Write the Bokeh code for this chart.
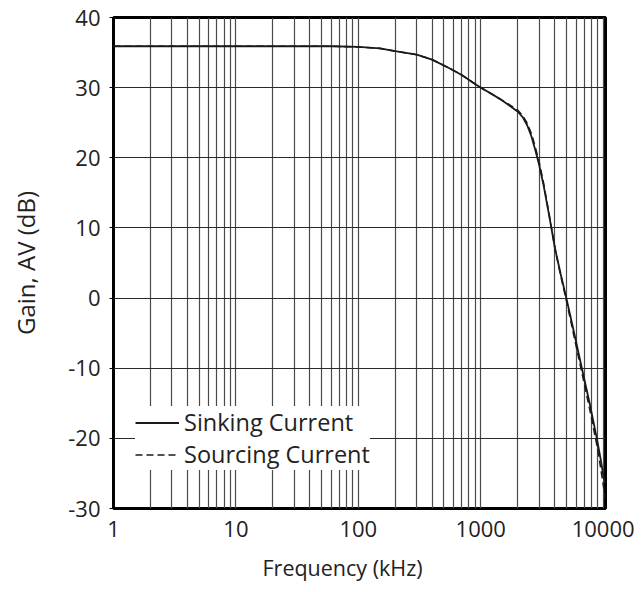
from bokeh.plotting import figure
from bokeh.models import FixedTicker, Legend, LegendItem, Range1d, Title
from bokeh.embed import file_html
from bokeh.resources import INLINE

# Open-loop gain vs frequency, sinking and sourcing load current
freq_khz = [1, 3, 10, 30, 60, 100, 150, 200, 300, 400, 550, 700, 850, 1000,
            1200, 1430, 1700, 2000, 2200, 2400, 2600, 2800, 3000, 3250, 3600,
            4050, 4500, 5000, 5600, 6700, 7800, 8900, 9500, 10100, 10450]
sinking_db = [35.9, 35.9, 35.9, 35.9, 35.9, 35.8, 35.6, 35.2, 34.7, 34.0,
              32.8, 31.8, 30.8, 30.0, 29.2, 28.4, 27.5, 26.6, 25.8, 24.6,
              23.0, 21.0, 19.0, 16.2, 12.0, 7.0, 3.4, 0.0, -3.8, -10.0,
              -15.2, -20.1, -22.8, -25.6, -26.4]
sourcing_db = [35.9, 35.9, 35.9, 35.9, 35.9, 35.8, 35.6, 35.2, 34.7, 34.0,
               32.8, 31.8, 30.8, 30.0, 29.2, 28.4, 27.6, 26.8, 26.0, 24.9,
               23.4, 21.4, 19.4, 16.5, 12.2, 7.0, 3.2, -0.3, -4.3, -10.6,
               -16.0, -21.0, -24.0, -27.0, -28.5]

x_tick_values = [1, 10, 100, 1000, 10000]
x_tick_labels = ["1", "10", "100", "1000", "10000"]
y_tick_values = [-30, -20, -10, 0, 10, 20, 30, 40]
y_tick_labels = ["-30", "-20", "-10", "0", "10", "20", "30", "40"]
series_names = ["Sinking Current", "Sourcing Current"]
x_title = "Frequency (kHz)"
y_title = "Gain, AV (dB)"

FONT = "Open Sans"
INK = "#222222"

p = figure(width=643, height=592, x_axis_type="log",
           x_range=Range1d(1, 10450), y_range=Range1d(-30, 40),
           output_backend="svg", toolbar_location=None,
           min_border_left=113, min_border_right=38,
           min_border_top=17, min_border_bottom=84)
p.background_fill_color = "white"
p.border_fill_color = "white"
p.outline_line_color = "black"
p.outline_line_width = 3

# grid: every 1..9 multiple per decade, 10 dB horizontal steps
decade_lines = [m * 10 ** k for k in range(0, 5) for m in range(1, 10)]
decade_lines = [v for v in decade_lines if v <= 10450]
p.xgrid[0].ticker = FixedTicker(ticks=decade_lines)
p.xgrid.grid_line_color = "#4a4a4a"
p.xgrid.grid_line_width = 1.2
p.ygrid[0].ticker = FixedTicker(ticks=y_tick_values)
p.ygrid.grid_line_color = "#2a2a2a"
p.ygrid.grid_line_width = 1.2

xa = p.xaxis[0]
xa.ticker = FixedTicker(ticks=x_tick_values, minor_ticks=[])
xa.major_label_overrides = {v: s for v, s in zip(x_tick_values, x_tick_labels)}
xa.axis_line_color = None
xa.major_tick_out = 0
xa.major_tick_in = 0
xa.minor_tick_out = 0
xa.minor_tick_in = 0
xa.major_label_standoff = 12

ya = p.yaxis[0]
ya.ticker = FixedTicker(ticks=y_tick_values, minor_ticks=[])
ya.major_label_overrides = {v: s for v, s in zip(y_tick_values, y_tick_labels)}
ya.axis_label = y_title
ya.axis_line_color = None
ya.major_tick_out = 4
ya.major_tick_in = 0
ya.minor_tick_out = 0
ya.minor_tick_in = 0
ya.major_tick_line_color = "black"
ya.major_label_standoff = 9
ya.axis_label_standoff = 23

for ax in (xa, ya):
    ax.major_label_text_font = FONT
    ax.major_label_text_font_size = "22px"
    ax.major_label_text_color = INK
    ax.axis_label_text_font = FONT
    ax.axis_label_text_font_size = "24px"
    ax.axis_label_text_font_style = "normal"
    ax.axis_label_text_color = INK

# x title sits a little left of the frame centre, below the tick labels
p.add_layout(Title(text=x_title, align="left", offset=149, standoff=22,
                   text_font=FONT, text_font_size="21.5px",
                   text_font_style="normal", text_color=INK), "below")

r_sink = p.line(freq_khz, sinking_db, line_color="#1a1a1a", line_width=1.8)
r_src = p.line(freq_khz, sourcing_db, line_color="#1a1a1a", line_width=1.6,
               line_dash="7 4")

legend = Legend(items=[LegendItem(label=series_names[0], renderers=[r_sink]),
                       LegendItem(label=series_names[1], renderers=[r_src])],
                location=(22, 38), margin=0, padding=3, spacing=0,
                glyph_width=44, glyph_height=31, label_height=31,
                label_standoff=5,
                background_fill_color="white", background_fill_alpha=1.0,
                border_line_color=None,
                label_text_font=FONT, label_text_font_size="23.5px",
                label_text_color=INK)
p.add_layout(legend)

open("out.html", "w").write(file_html(p, INLINE))
